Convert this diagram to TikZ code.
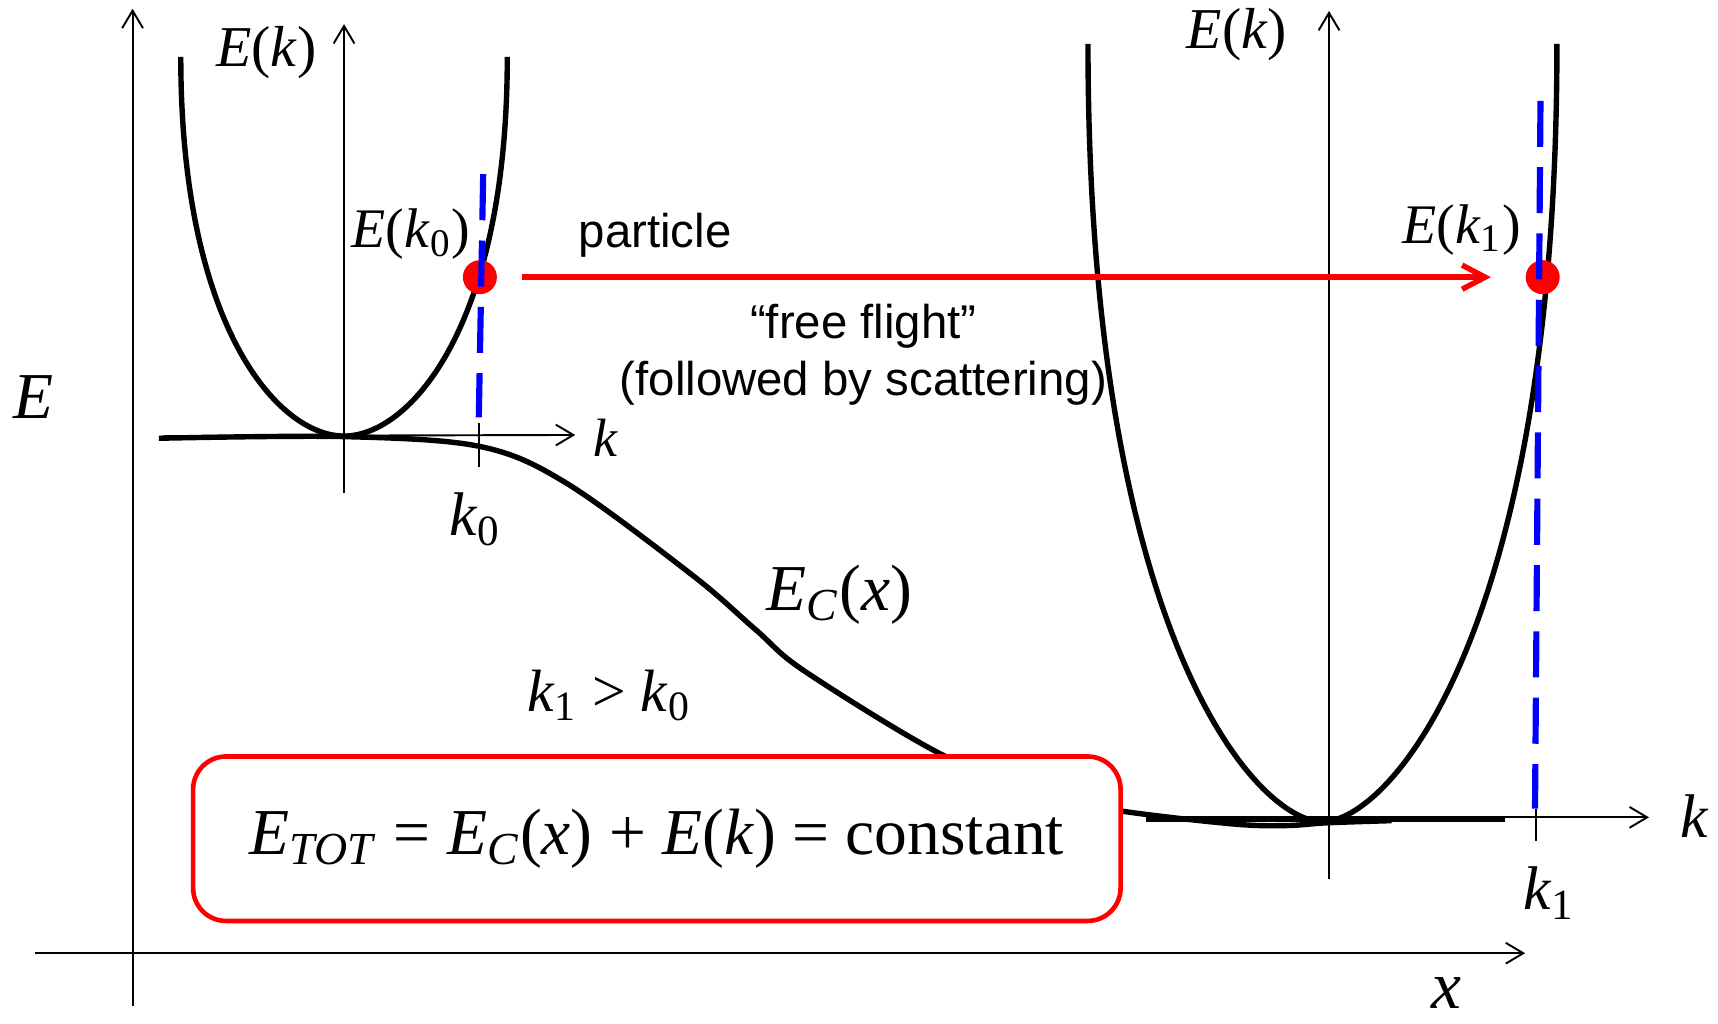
\documentclass[tikz,border=0pt]{standalone}
\usepackage{fontspec}
\setmainfont{Liberation Serif}
\newfontfamily\sansfont{Liberation Sans}
\usetikzlibrary{arrows.meta,positioning}

\newcommand{\mv}[1]{\textit{#1}}
\newcommand{\lo}[1]{\textsubscript{#1}}

\begin{document}
\begin{tikzpicture}[
        x=0.01cm, y=-0.01cm,
        axis/.style={line width=0.5pt, -{Straight Barb[length=1.6mm, width=1.9mm]}},
        tickline/.style={line width=0.5pt},
        band/.style={line width=1.4pt, line join=round},
        kline/.style={blue, line width=1.6pt, dash pattern=on 4.2mm off 1.85mm},
        flight/.style={red, line width=1.4pt, -{Straight Barb[length=2.1mm, width=2.2mm]}},
        dot/.style={circle, fill=red, inner sep=0pt, minimum size=3.1mm},
        lbl/.style={inner sep=0pt, font=\fontsize{#1}{#1}\selectfont},
        sans/.style={inner sep=0pt, font=\sansfont\fontsize{12.3}{14}\selectfont},
        eqbox/.style={draw=red, line width=1.2pt, fill=white, rounded corners=3mm,
            minimum width=8.46cm, minimum height=1.5cm, font=\fontsize{17}{20}\selectfont}
    ]
    \useasboundingbox (0,0) rectangle (1568,934);

    % position / energy axes
    \draw[axis] (121,918) -- (121,8);
    \draw[axis] (32,870) -- (1392,870);
    \node[lbl=17] (Elab) at (31,362) {\mv{E}};
    \node[lbl=17.5] (xlab) at (1320,906) {\mv{x}};

    % conduction band edge
    \draw[band] plot[smooth, tension=0.55] coordinates {(145,400) (314,398.5) (438,407.5) (517,441) (632,525) (690,575) (735,613) (862,690) (960,726) (1022,740) (1125,752) (1174,753.5) (1211,751) (1270,749)};
    \draw[band] (1046,748) -- (1374,748);

    % left E(k)
    \draw[axis] (314,450) -- (314,22);
    \draw[axis] (150,398) -- (525,397);
    \draw[tickline] (437,386) -- (437,426);
    \draw[band] (165,52) .. controls (165,298) and (254,398) .. (314,398) .. controls (374,398) and (463,298) .. (463,52);

    % right E(k)
    \draw[axis] (1213,802) -- (1213,10);
    \draw[axis] (1046,746) -- (1505,746);
    \draw[tickline] (1402,738) -- (1402,768);
    \draw[band] (993,40) .. controls (993,580) and (1147,750) .. (1207,750) .. controls (1267,750) and (1421,580) .. (1421,40);

    \node[eqbox] (eq) at (599.5,765.5) {\mv{E}\lo{\mv{TOT}} = \mv{E}\lo{\mv{C}}(\mv{x}) + \mv{E}(\mv{k}) = constant};

    \node[dot] (p0) at (438,253) {};
    \node[dot] (p1) at (1408,253) {};
    \draw[flight, shorten <=2.2mm, shorten >=3.1mm] (p0) -- (p1);
    \draw[kline] (441,159) -- (437,381);
    \draw[kline] (1406,92) -- (1401,738);

    \node[lbl=15] (Ek0) at (243,48) {\mv{E}(\mv{k})};
    \node[lbl=15] (Ek1) at (1129,32) {\mv{E}(\mv{k})};
    \node[lbl=14.5] (Ea) at (375,214) {\mv{E}(\mv{k}\lo{0})};
    \node[lbl=14.5] (Eb) at (1334,210) {\mv{E}(\mv{k}\lo{1})};
    \node[lbl=14] (ka) at (553,400) {\mv{k}};
    \node[lbl=16] (kb) at (1547,745) {\mv{k}};
    \node[lbl=16] (k0lab) at (434,474) {\mv{k}\lo{0}};
    \node[lbl=16] (k1lab) at (1414,815) {\mv{k}\lo{1}};
    \node[lbl=17] (EC) at (766,543) {\mv{E}\lo{\mv{C}}(\mv{x})};
    \node[lbl=15.5] (order) at (556,635) {\mv{k}\lo{1} > \mv{k}\lo{0}};

    \node[sans] (part) at (598,215) {particle};
    \node[sans] (free) at (788,298) {“free flight”};
    \node[sans] (scat) at (788,350) {(followed by scattering)};
\end{tikzpicture}
\end{document}
